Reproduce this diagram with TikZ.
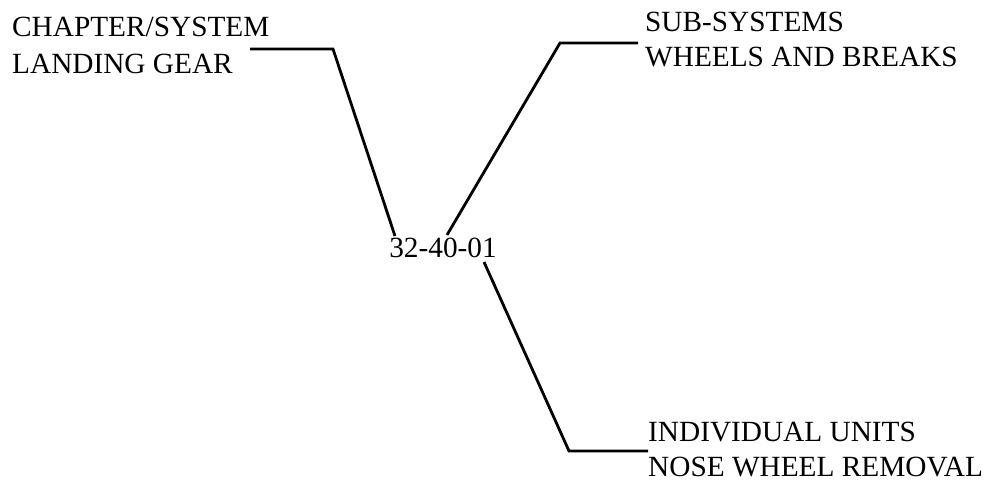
\documentclass[tikz,border=0pt]{standalone}
\usepackage{fontspec}
\setmainfont{Liberation Serif}
\begin{document}
\begin{tikzpicture}[x=1pt,y=-1pt,
  lbl/.style={anchor=base west,inner sep=0pt,font=\fontsize{29.3}{34}\selectfont},
  code/.style={anchor=base,inner sep=0pt,font=\fontsize{29.3}{34}\selectfont},
  leader/.style={line width=2.8pt,line join=miter}]
\useasboundingbox (0,0) rectangle (997,481);
% labels
\node[lbl] (chapA) at (12,37) {CHAPTER/SYSTEM};
\node[lbl] (chapB) at (12,74) {LANDING GEAR};
\node[lbl] (subA) at (645,32) {SUB-SYSTEMS};
\node[lbl] (subB) at (645,67) {WHEELS AND BREAKS};
\node[lbl] (unitA) at (648,441) {INDIVIDUAL UNITS};
\node[lbl] (unitB) at (648,476) {NOSE WHEEL REMOVAL};
\node[code] (num) at (443,258) {32-40-01};
% leader end points and bends
\coordinate (chapEnd) at (250,49);
\coordinate (chapBend) at (333,49);
\coordinate (numL) at (395,236);
\coordinate (numT) at (447,235);
\coordinate (subBend) at (560,43);
\coordinate (subEnd) at (638,43);
\coordinate (numB) at (484,262);
\coordinate (unitBend) at (569,451);
\coordinate (unitEnd) at (648,451);
% leaders
\draw[leader] (chapEnd) -- (chapBend) -- (numL);
\draw[leader] (numT) -- (subBend) -- (subEnd);
\draw[leader] (numB) -- (unitBend) -- (unitEnd);
\end{tikzpicture}
\end{document}
